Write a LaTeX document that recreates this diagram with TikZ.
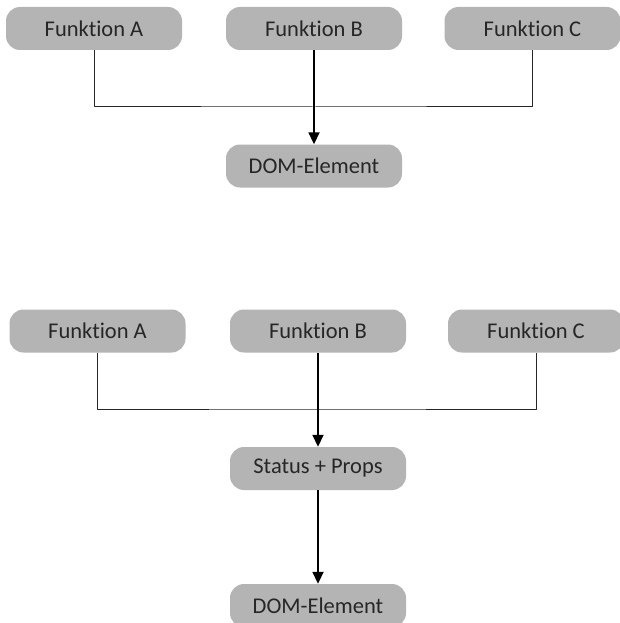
\documentclass[tikz,border=0pt]{standalone}
\usepackage{fontspec}
\setmainfont{Carlito}[Ligatures=NoCommon]
\usetikzlibrary{arrows.meta}
\definecolor{boxgray}{HTML}{B4B4B4}
\definecolor{txtgray}{HTML}{262626}
\begin{document}
\begin{tikzpicture}[x=1pt,y=-1pt, line join=round,
	box/.style={rectangle, rounded corners=14pt, fill=boxgray, text=txtgray,
		minimum width=176pt, minimum height=43pt, inner sep=0pt,
		font=\fontsize{22.5}{26}\selectfont},
	link/.style={draw=txtgray, line width=1pt},
	flow/.style={draw=black, line width=1.8pt, -{Triangle[width=11pt,length=12pt]}}]
	\useasboundingbox[fill=white] (0,0) rectangle (619,623);
	% oben
	\node[box] (fa1) at (94,28.5) {Funktion A};
	\node[box] (fb1) at (314,28.5) {Funktion B};
	\node[box] (fc1) at (532.5,28.5) {Funktion C};
	\node[box] (dom1) at (314,166) {DOM-Element};
	\coordinate (j1) at (314,107);
	\draw[link] (fa1.south) |- (j1) -| (fc1.south);
	\draw[flow] (fb1.south) -- (dom1.north);
	% unten
	\node[box] (fa2) at (97.5,331) {Funktion A};
	\node[box] (fb2) at (318,331) {Funktion B};
	\node[box] (fc2) at (536,331) {Funktion C};
	\node[box] (st) at (318,468.5) {Status + Props};
	\node[box] (dom2) at (318,605.5) {DOM-Element};
	\coordinate (j2) at (318,409);
	\draw[link] (fa2.south) |- (j2) -| (fc2.south);
	\draw[flow] (fb2.south) -- (st.north);
	\draw[flow] (st.south) -- (dom2.north);
\end{tikzpicture}
\end{document}
